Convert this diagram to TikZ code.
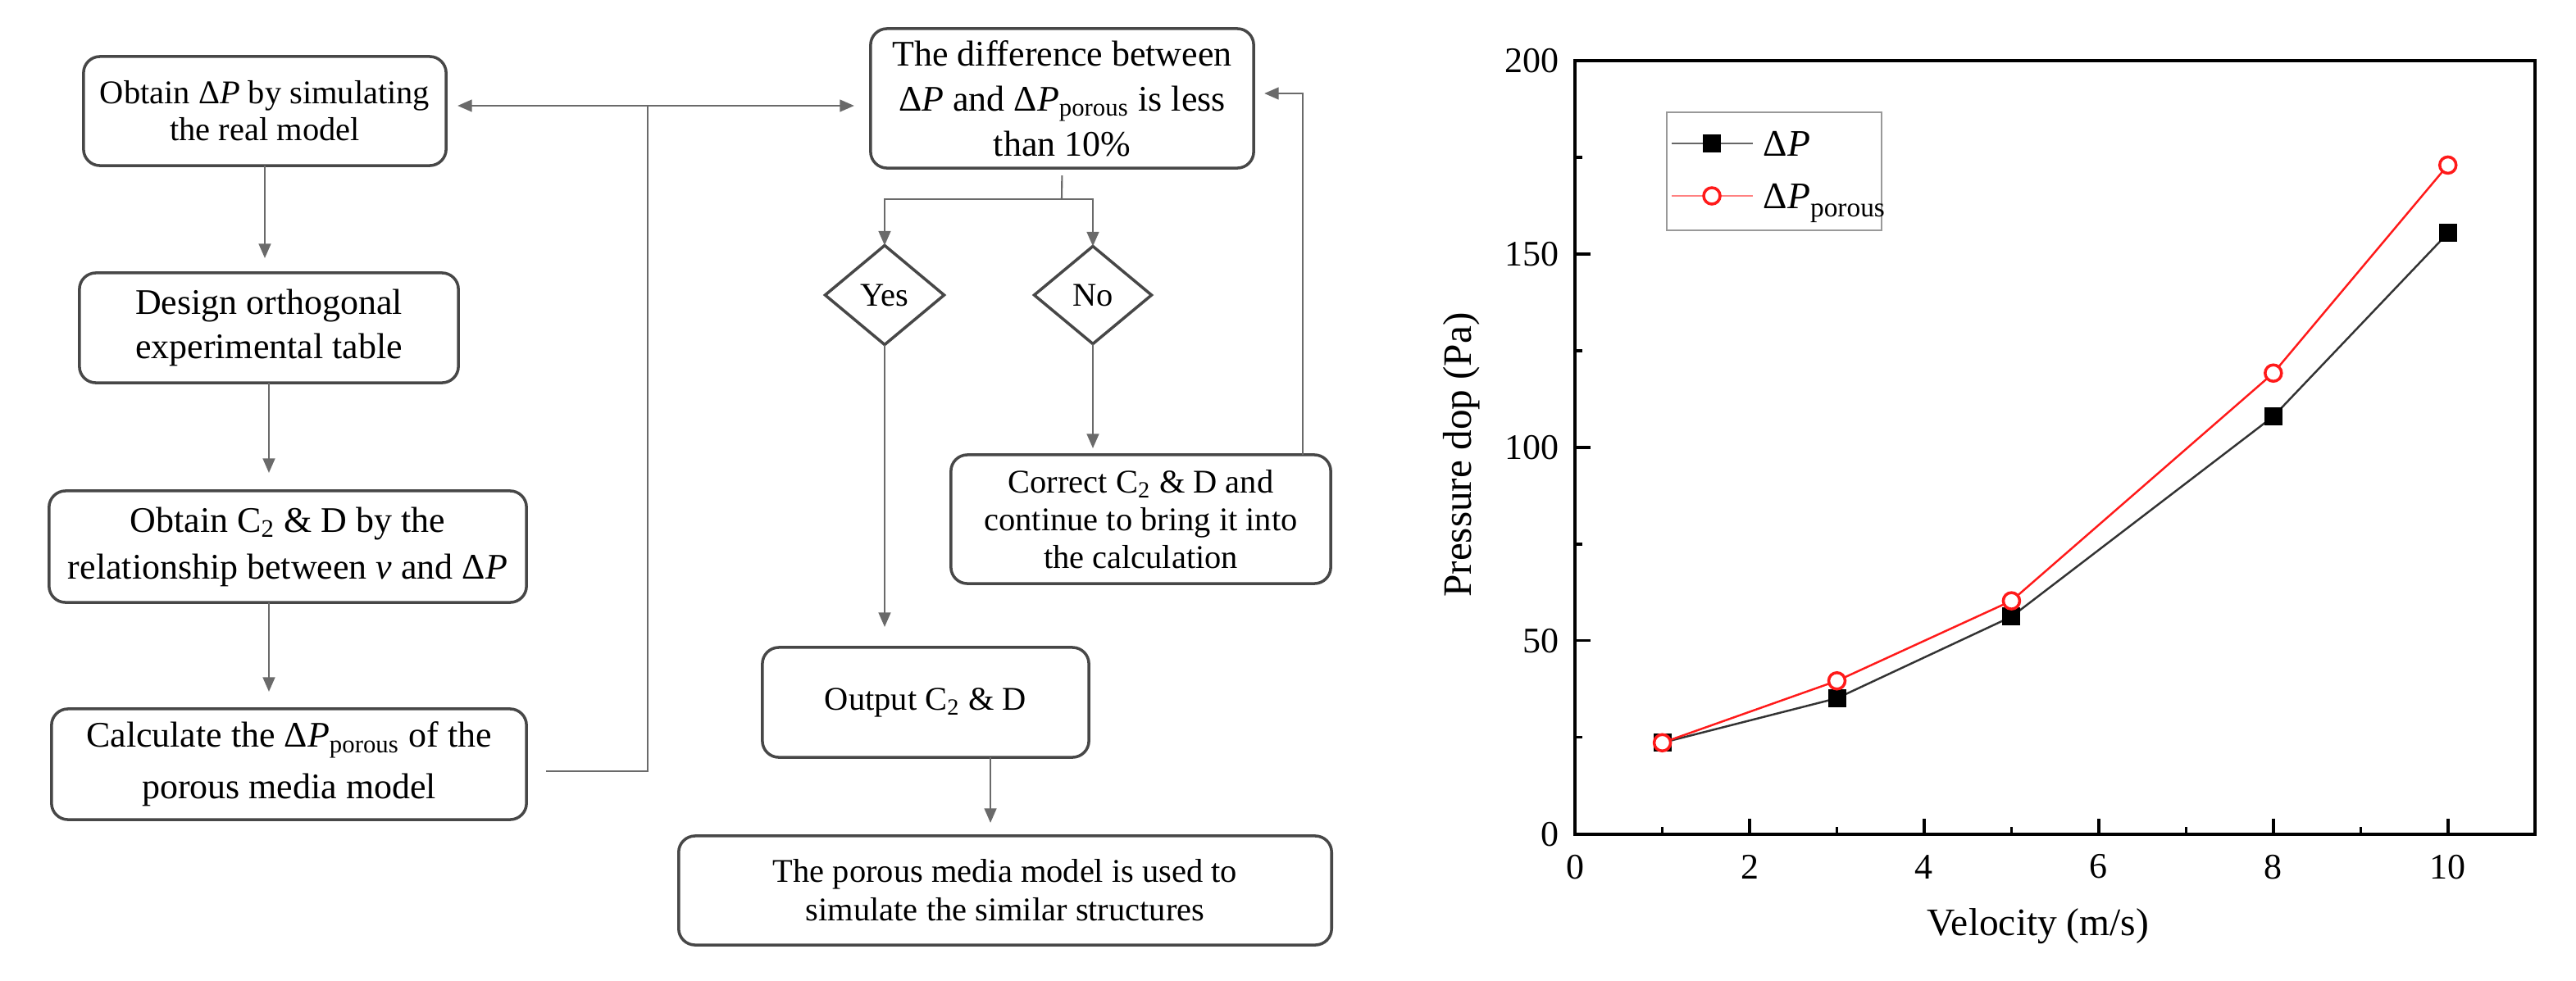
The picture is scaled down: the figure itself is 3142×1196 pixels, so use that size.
\documentclass[tikz,border=0pt]{standalone}
\usepackage{fontspec}
\setmainfont{Liberation Serif}
\usetikzlibrary{arrows.meta,shapes.geometric,calc}
\newcommand{\dP}{Δ\textit{P}}
\definecolor{boxc}{HTML}{474747}
\definecolor{linec}{HTML}{6A6A6A}
\definecolor{plotred}{HTML}{FF1A1A}
\begin{document}
\begin{tikzpicture}[x=0.01cm,y=-0.01cm,
  fbox/.style={draw=boxc, line width=1pt, rounded corners=0.2cm, inner sep=0pt, outer sep=0pt, align=center},
  fdia/.style={draw=boxc, line width=1pt, diamond, inner sep=0pt, outer sep=0pt, font={\fontsize{11.5}{13}\selectfont}},
  conn/.style={draw=linec, line width=0.6pt},
  arr/.style={conn, -{Triangle[length=5pt,width=4.2pt]}},
  tick/.style={line width=1pt, black},
  lbl/.style={inner sep=0pt, font={\fontsize{12.5}{14}\selectfont}}
]
\fill[white] (0,0) rectangle (3142,1196);
\useasboundingbox (0,0) rectangle (3142,1196);

% ---------------- flowchart ----------------
\node[fbox, minimum width=4.42cm, minimum height=1.33cm, font={\fontsize{11.5}{12.8}\selectfont}] (A) at (323,135.5)
  {Obtain \dP{} by simulating\\the real model};
\node[fbox, minimum width=4.62cm, minimum height=1.34cm, font={\fontsize{12.5}{15.4}\selectfont}] (B) at (328,400)
  {Design orthogonal\\experimental table};
\node[fbox, minimum width=5.82cm, minimum height=1.36cm, font={\fontsize{12.5}{16.2}\selectfont}] (C) at (351,667)
  {Obtain C\textsubscript{2} \& D by the\\relationship between \textit{v} and \dP};
\node[fbox, minimum width=5.79cm, minimum height=1.35cm, font={\fontsize{12.5}{17.9}\selectfont}] (D) at (352.5,932.5)
  {Calculate the \dP\textsubscript{porous} of the\\porous media model};
\node[fbox, minimum width=4.67cm, minimum height=1.70cm, font={\fontsize{12.5}{15.6}\selectfont}] (E) at (1295.5,120)
  {The difference between\\\dP{} and \dP\textsubscript{porous} is less\\than 10\%};
\node[fdia, minimum width=1.45cm, minimum height=1.21cm] (Yes) at (1079,360) {Yes};
\node[fdia, minimum width=1.43cm, minimum height=1.19cm] (No) at (1333,360) {No};
\node[fbox, minimum width=4.63cm, minimum height=1.57cm, font={\fontsize{11.5}{13.1}\selectfont}] (Corr) at (1391.5,633.5)
  {Correct C\textsubscript{2} \& D and\\continue to bring it into\\the calculation};
\node[fbox, minimum width=3.98cm, minimum height=1.34cm, font={\fontsize{11.5}{13}\selectfont}] (Out) at (1129,857)
  {Output C\textsubscript{2} \& D};
\node[fbox, minimum width=7.96cm, minimum height=1.33cm, font={\fontsize{11.5}{13.4}\selectfont}] (Fin) at (1226,1086.5)
  {The porous media model is used to\\simulate the similar structures};

\coordinate (J) at (790,129);
\coordinate (K) at (790,941);
\coordinate (M) at (1295,243);
\coordinate (F) at (1589,114);

\draw[conn, {Triangle[length=5pt,width=4.2pt]}-{Triangle[length=5pt,width=4.2pt]}, shorten <=0.14cm, shorten >=0.2cm]
  (A.east|-J) -- (E.west|-J);
\draw[conn, shorten <=0.24cm] (D.east|-K) -- (K) -- (J);
\draw[arr, shorten >=0.18cm] (A.south) -- (A.south|-B.north);
\draw[arr, shorten >=0.22cm] (B.south) -- (B.south|-C.north);
\draw[arr, shorten >=0.21cm] (C.south-|B.south) -- (B.south|-D.north);
\draw[conn, shorten <=0.09cm] (E.south) -- (M);
\draw[arr] (M) -| (Yes.north);
\draw[arr] (M) -| (No.north);
\draw[arr, shorten >=0.25cm] (Yes.south) -- (Yes.south|-Out.north);
\draw[arr, shorten >=0.08cm] (No.south) -- (No.south|-Corr.north);
\draw[arr, shorten >=0.13cm] (Corr.north-|F) -- (F) -- (E.east|-F);
\draw[arr, shorten >=0.16cm] ([xshift=0.79cm]Out.south) -- ([xshift=0.79cm]Out.south|-Fin.north);

% ---------------- plot ----------------
\begin{scope}[shift={(19.20cm,-10.17cm)}, x=1.064cm, y=0.04715cm]
  \foreach \v in {0,2,4,6,8,10} {
    \draw[tick] (\v,0) -- ++(0,0.19cm);
    \node[lbl] (xt\v) at ($(\v,0)+(0,-0.40cm)$) {\v};
  }
  \foreach \v in {1,3,5,7,9} \draw[tick] (\v,0) -- ++(0,0.09cm);
  \foreach \p in {0,50,100,150,200} {
    \draw[tick] (0,\p) -- ++(0.19cm,0);
    \node[lbl, anchor=east] (yt\p) at ($(0,\p)+(-0.19cm,0)$) {\p};
  }
  \foreach \p in {25,75,125,175} \draw[tick] (0,\p) -- ++(0.09cm,0);
  \draw[line width=1.2pt, black] (0,0) rectangle (11,200);

  \draw[line width=0.7pt, black!80] (1,23.6) -- (3,35.1) -- (5,56.2) -- (8,108) -- (10,155.4);
  \foreach \a/\b in {1/23.6,3/35.1,5/56.2,8/108,10/155.4}
    \fill[black] (\a,\b) +(-0.11cm,-0.11cm) rectangle +(0.11cm,0.11cm);
  \draw[line width=0.7pt, plotred] (1,23.6) -- (3,39.6) -- (5,60.3) -- (8,119.2) -- (10,173);
  \foreach \a/\b in {1/23.6,3/39.6,5/60.3,8/119.2,10/173}
    \draw[plotred, line width=1pt, fill=white] (\a,\b) circle[radius=0.1cm];
\end{scope}

\node[inner sep=0pt, rotate=90, font={\fontsize{14}{16}\selectfont}] (ylab) at (1783,555) {Pressure dop (Pa)};
\node[inner sep=0pt, font={\fontsize{13.5}{15}\selectfont}] (xlab) at (2486,1130) {Velocity (m/s)};

% legend
\draw[draw=black!40, line width=0.7pt] (2033,137) rectangle (2295,281);
\draw[line width=0.8pt, black!60] (2039,175) -- (2138,175);
\fill[black] (2077,164) rectangle (2099,186);
\draw[line width=0.8pt, plotred!55] (2039,239) -- (2138,239);
\draw[plotred, line width=1pt, fill=white] (2088,239) circle[radius=0.1cm];
\node[anchor=base west, inner sep=0pt, font={\fontsize{13}{15}\selectfont}] (lg1) at (2150,190) {\dP};
\node[anchor=base west, inner sep=0pt, font={\fontsize{13}{15}\selectfont}] (lg2) at (2150,254)
  {\dP\raisebox{-3pt}{\fontsize{9.5}{10}\selectfont porous}};
\end{tikzpicture}
\end{document}
